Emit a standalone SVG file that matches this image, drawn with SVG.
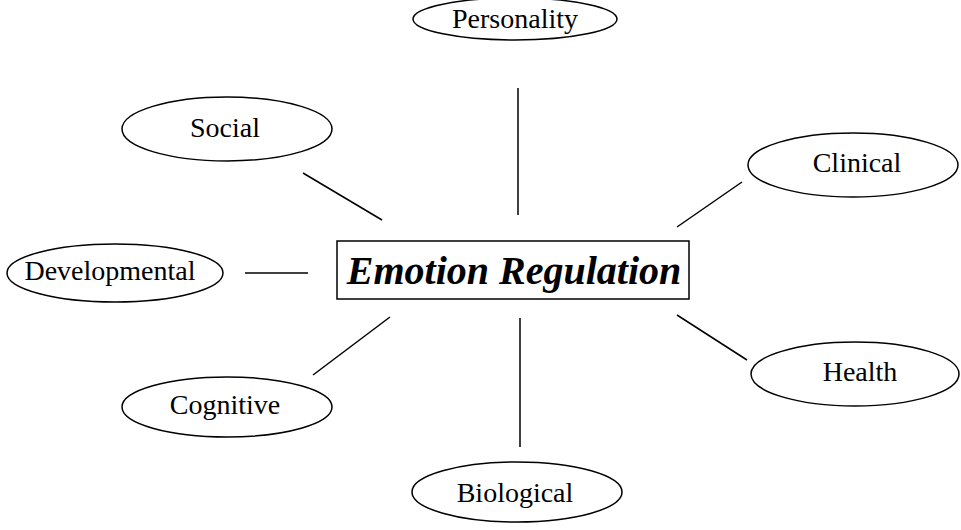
<svg xmlns="http://www.w3.org/2000/svg" width="961" height="530" viewBox="0 0 961 530">
<style>
.n ellipse{fill:#fff;stroke:#000;stroke-width:1.5}
.n text{font-family:"Liberation Serif","Times New Roman",serif;font-size:28px;fill:#000;text-anchor:middle}
.c line{stroke:#000;stroke-width:1.5}
</style>
<rect width="961" height="530" fill="#fff"/>
<g class="c" id="connectors">
<line x1="518" y1="88" x2="518" y2="215"/>
<line x1="303" y1="173" x2="382" y2="220"/>
<line x1="742" y1="182" x2="677" y2="227"/>
<line x1="245" y1="273" x2="308" y2="273"/>
<line x1="390" y1="317" x2="313" y2="375"/>
<line x1="677" y1="315" x2="747" y2="360"/>
<line x1="520" y1="318" x2="520" y2="447"/>
</g>
<g id="center">
<rect x="337" y="241" width="352" height="58" fill="#fff" stroke="#000" stroke-width="1.5"/>
<text x="514" y="284" font-family="Liberation Serif,'Times New Roman',serif" font-size="40" font-weight="bold" font-style="italic" text-anchor="middle">Emotion Regulation</text>
</g>
<g class="n" id="personality"><ellipse cx="515" cy="19" rx="102" ry="21"/><text x="515" y="28">Personality</text></g>
<g class="n" id="social"><ellipse cx="227" cy="129" rx="105" ry="32"/><text x="225" y="137">Social</text></g>
<g class="n" id="clinical"><ellipse cx="853" cy="165" rx="105" ry="32"/><text x="857" y="172">Clinical</text></g>
<g class="n" id="developmental"><ellipse cx="115" cy="273" rx="108" ry="29"/><text x="110" y="280">Developmental</text></g>
<g class="n" id="cognitive"><ellipse cx="227" cy="407" rx="105" ry="30"/><text x="225" y="414">Cognitive</text></g>
<g class="n" id="health"><ellipse cx="855" cy="374" rx="104" ry="32"/><text x="860" y="381">Health</text></g>
<g class="n" id="biological"><ellipse cx="517" cy="492" rx="105" ry="30"/><text x="515" y="502">Biological</text></g>
</svg>
